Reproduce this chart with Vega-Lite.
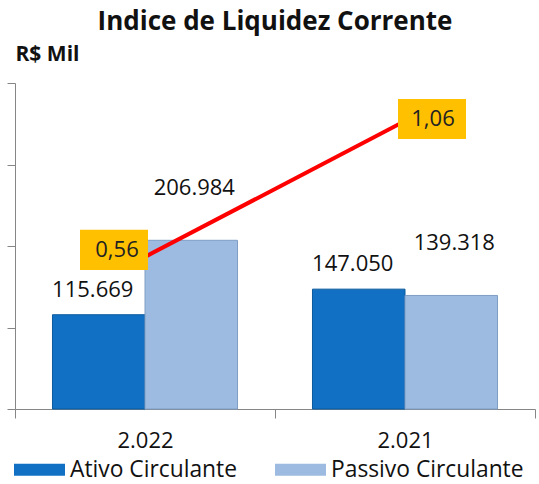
{
  "$schema": "https://vega.github.io/schema/vega-lite/v6.json",
  "width": 520,
  "height": 326,
  "autosize": {"type": "none"},
  "padding": {"left": 15, "top": 83, "right": 4, "bottom": 75},
  "background": "white",
  "config": {"view": {"stroke": null}},
  "title": {"text": "Indice de Liquidez Corrente", "font": "Open Sans", "fontSize": 26, "fontWeight": "bold", "color": "#111111", "anchor": "middle", "frame": "group", "offset": 8},
  "datasets": {
    "bars": [
      {"ano": "2.022", "serie": "Ativo Circulante", "valor": 115669, "rotulo": "115.669"},
      {"ano": "2.022", "serie": "Passivo Circulante", "valor": 206984, "rotulo": "206.984"},
      {"ano": "2.021", "serie": "Ativo Circulante", "valor": 147050, "rotulo": "147.050"},
      {"ano": "2.021", "serie": "Passivo Circulante", "valor": 139318, "rotulo": "139.318"}
    ],
    "indice": [
      {"ano": "2.022", "indice": 0.56, "rotulo": "0,56"},
      {"ano": "2.021", "indice": 1.06, "rotulo": "1,06"}
    ]
  },
  "resolve": {"scale": {"y": "independent"}},
  "layer": [
    {
      "data": {"name": "bars"},
      "encoding": {
        "x": {"field": "ano", "type": "nominal", "sort": ["2.022", "2.021"], "scale": {"paddingInner": 0, "paddingOuter": 0},
          "axis": {"title": null, "tickBand": "extent", "tickSize": 9, "labelAngle": 0, "labelFont": "Open Sans", "labelFontSize": 22, "labelPadding": 12, "labelColor": "#111111", "domainColor": "#868686", "tickColor": "#868686"}},
        "xOffset": {"field": "serie", "type": "nominal", "sort": ["Ativo Circulante", "Passivo Circulante"], "scale": {"paddingInner": 0, "paddingOuter": 0.405}},
        "y": {"field": "valor", "type": "quantitative", "scale": {"domain": [0, 400000]},
          "axis": {"labels": false, "grid": false, "values": [0, 100000, 200000, 300000, 400000], "tickSize": 8, "domainColor": "#868686", "tickColor": "#868686", "title": "R$ Mil", "titleAngle": 0, "titleX": 0, "titleY": -23, "titleAlign": "left", "titleBaseline": "alphabetic", "titleFont": "Open Sans", "titleFontSize": 21, "titleFontWeight": "bold", "titleColor": "#111111"}}
      },
      "layer": [
        {
          "mark": {"type": "bar", "strokeWidth": 1},
          "encoding": {
            "color": {"field": "serie", "type": "nominal", "scale": {"domain": ["Ativo Circulante", "Passivo Circulante"], "range": ["#1170C4", "#9DBBE1"]},
              "legend": {"orient": "none", "legendX": -1, "legendY": 361, "direction": "horizontal", "title": null, "symbolType": "M-1,-0.235L1,-0.235L1,0.235L-1,0.235Z", "symbolSize": 2601, "labelFont": "Open Sans", "labelFontSize": 22.8, "labelLimit": 300, "labelColor": "#111111", "columnPadding": 38, "labelOffset": 5, "symbolStrokeWidth": 0}},
            "stroke": {"field": "serie", "type": "nominal", "scale": {"domain": ["Ativo Circulante", "Passivo Circulante"], "range": ["#0B5A9E", "#7F9DC4"]}, "legend": null}
          }
        },
        {
          "transform": [{"filter": "datum.serie === 'Ativo Circulante'"}],
          "mark": {"type": "text", "dy": -25, "dx": -6, "font": "Open Sans", "fontSize": 22, "color": "#111111"},
          "encoding": {"text": {"field": "rotulo"}}
        },
        {
          "transform": [{"filter": "datum.serie === 'Passivo Circulante'"}],
          "mark": {"type": "text", "dy": -52, "dx": 3, "font": "Open Sans", "fontSize": 22, "color": "#111111"},
          "encoding": {"text": {"field": "rotulo"}}
        }
      ]
    },
    {
      "data": {"name": "indice"},
      "encoding": {
        "x": {"field": "ano", "type": "nominal", "sort": ["2.022", "2.021"], "scale": {"paddingInner": 0, "paddingOuter": 0}},
        "y": {"field": "indice", "type": "quantitative", "scale": {"domain": [0, 1.2]}, "axis": null}
      },
      "layer": [
        {"mark": {"type": "line", "color": "#FF0000", "strokeWidth": 4}},
        {
          "transform": [{"filter": "datum.ano === '2.022'"}],
          "mark": {"type": "point", "shape": "M-1,-0.59L1,-0.59L1,0.59L-1,0.59Z", "size": 4624, "filled": true, "opacity": 1, "color": "#FFC000", "xOffset": -31, "yOffset": -7}
        },
        {
          "transform": [{"filter": "datum.ano === '2.022'"}],
          "mark": {"type": "text", "dx": -28, "dy": -7, "font": "Open Sans", "fontSize": 22, "color": "#222222"},
          "encoding": {"text": {"field": "rotulo"}}
        },
        {
          "transform": [{"filter": "datum.ano === '2.021'"}],
          "mark": {"type": "point", "shape": "M-1,-0.59L1,-0.59L1,0.59L-1,0.59Z", "size": 4624, "filled": true, "opacity": 1, "color": "#FFC000", "xOffset": 27, "yOffset": -2}
        },
        {
          "transform": [{"filter": "datum.ano === '2.021'"}],
          "mark": {"type": "text", "dx": 28, "dy": -2, "font": "Open Sans", "fontSize": 22, "color": "#222222"},
          "encoding": {"text": {"field": "rotulo"}}
        }
      ]
    }
  ]
}
